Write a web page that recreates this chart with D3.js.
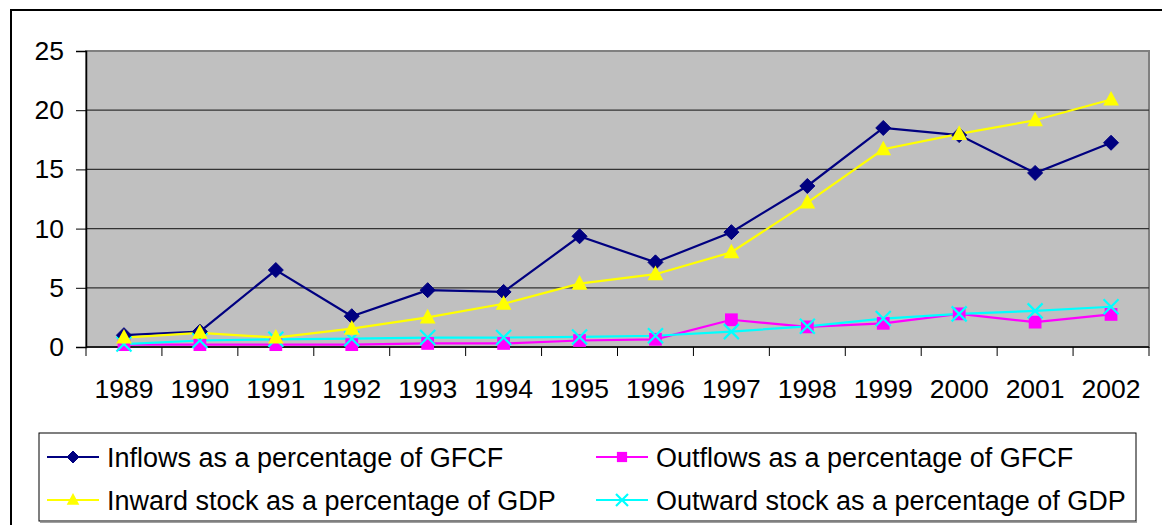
<!DOCTYPE html>
<html>
<head>
<meta charset="utf-8">
<script src="https://cdn.jsdelivr.net/npm/d3@7"></script>
<style>
  html, body { margin: 0; padding: 0; background: #fff; }
  svg { display: block; font-family: "Liberation Sans", Arial, sans-serif; }
</style>
</head>
<body>
<div id="chart"></div>
<script>
// --- data ---
const years = ["1989", "1990", "1991", "1992", "1993", "1994", "1995",
               "1996", "1997", "1998", "1999", "2000", "2001", "2002"];
const inflows = [1.0, 1.3, 6.5, 2.6, 4.8, 4.65, 9.35, 7.15, 9.7, 13.6, 18.5, 17.9, 14.7, 17.25];
const outflows = [0.2, 0.2, 0.2, 0.2, 0.3, 0.3, 0.55, 0.65, 2.3, 1.7, 2.0, 2.8, 2.1, 2.75];
const inwardStock = [0.8, 1.2, 0.8, 1.55, 2.5, 3.65, 5.35, 6.15, 8.0, 12.2, 16.7, 18.0, 19.15, 20.9];
const outwardStock = [0.25, 0.55, 0.65, 0.7, 0.8, 0.8, 0.85, 0.95, 1.3, 1.75, 2.4, 2.8, 3.05, 3.4];
const yTicks = [0, 5, 10, 15, 20, 25];

const series = [
  { name: "Inflows as a percentage of GFCF", values: inflows, color: "#000080", marker: "diamond" },
  { name: "Outflows as a percentage of GFCF", values: outflows, color: "#ff00ff", marker: "square" },
  { name: "Inward stock as a percentage of GDP", values: inwardStock, color: "#ffff00", marker: "triangle" },
  { name: "Outward stock as a percentage of GDP", values: outwardStock, color: "#00ffff", marker: "cross" }
];

const W = 1162, H = 525;
const plot = { left: 86, top: 51, right: 1149, bottom: 347 };
const fontFamily = "'Liberation Sans', Arial, sans-serif";

const svg = d3.select("#chart").append("svg")
  .attr("width", W)
  .attr("height", H);

// outer chart frame (runs off the right/bottom of the picture)
svg.append("rect")
  .attr("x", 11).attr("y", 10)
  .attr("width", W + 20).attr("height", H + 20)
  .attr("fill", "#fff")
  .attr("stroke", "#000")
  .attr("stroke-width", 2);

const x = d3.scaleBand()
  .domain(years)
  .range([plot.left, plot.right]);

const y = d3.scaleLinear()
  .domain([0, 25])
  .range([plot.bottom, plot.top]);

// plot area
svg.append("rect")
  .attr("x", plot.left).attr("y", plot.top)
  .attr("width", plot.right - plot.left)
  .attr("height", plot.bottom - plot.top)
  .attr("fill", "#c0c0c0")
  .attr("stroke", "#808080")
  .attr("stroke-width", 2);

// gridlines
svg.append("g")
  .selectAll("line")
  .data(yTicks.filter(t => t > 0 && t < 25))
  .join("line")
    .attr("x1", plot.left).attr("x2", plot.right)
    .attr("y1", d => y(d)).attr("y2", d => y(d))
    .attr("stroke", "#333")
    .attr("stroke-width", 1.2);

// y axis
const yAxis = svg.append("g")
  .attr("transform", `translate(${plot.left},0)`)
  .call(d3.axisLeft(y).tickValues(yTicks).tickSize(10).tickPadding(12));
yAxis.select(".domain").attr("stroke", "#000").attr("stroke-width", 1.5);
yAxis.selectAll(".tick line").attr("stroke", "#000");
yAxis.selectAll(".tick text")
  .attr("font-size", 26.5)
  .attr("fill", "#000")
  .attr("font-family", fontFamily);

// x axis: ticks sit on the category boundaries
const boundaries = d3.range(years.length + 1).map(i => plot.left + i * x.step());
const xAxisG = svg.append("g");
xAxisG.append("line")
  .attr("x1", plot.left).attr("x2", plot.right)
  .attr("y1", plot.bottom).attr("y2", plot.bottom)
  .attr("stroke", "#000").attr("stroke-width", 1.5);
xAxisG.selectAll(".xtick")
  .data(boundaries)
  .join("line")
    .attr("class", "xtick")
    .attr("x1", d => d).attr("x2", d => d)
    .attr("y1", plot.bottom).attr("y2", plot.bottom + 9)
    .attr("stroke", "#000");
xAxisG.selectAll(".xlabel")
  .data(years)
  .join("text")
    .attr("class", "xlabel")
    .attr("x", d => x(d) + x.bandwidth() / 2)
    .attr("y", 398)
    .attr("text-anchor", "middle")
    .attr("font-size", 26.5)
    .text(d => d);

// marker shapes
function drawMarker(g, type, color, size) {
  const s = size;
  if (type === "diamond") {
    g.append("path")
      .attr("d", `M0,${-s}L${s},0L0,${s}L${-s},0Z`)
      .attr("fill", color).attr("stroke", color);
  } else if (type === "square") {
    g.append("rect")
      .attr("x", -s * 0.85).attr("y", -s * 0.85)
      .attr("width", s * 1.7).attr("height", s * 1.7)
      .attr("fill", color);
  } else if (type === "triangle") {
    g.append("path")
      .attr("d", `M0,${-s * 1.15}L${s * 1.05},${s * 0.8}L${-s * 1.05},${s * 0.8}Z`)
      .attr("fill", color);
  } else if (type === "cross") {
    g.append("path")
      .attr("d", `M${-s},${-s}L${s},${s}M${s},${-s}L${-s},${s}`)
      .attr("stroke", color).attr("stroke-width", 2.2).attr("fill", "none");
  }
}

const line = d3.line()
  .x((d, i) => x(years[i]) + x.bandwidth() / 2)
  .y(d => y(d));

// draw order so the front-most matches the picture
const drawOrder = [1, 3, 0, 2];
drawOrder.forEach(k => {
  const s = series[k];
  svg.append("path")
    .datum(s.values)
    .attr("fill", "none")
    .attr("stroke", s.color)
    .attr("stroke-width", 2.2)
    .attr("d", line);
});
drawOrder.forEach(k => {
  const s = series[k];
  s.values.forEach((v, i) => {
    const g = svg.append("g")
      .attr("transform", `translate(${x(years[i]) + x.bandwidth() / 2},${y(v)})`);
    drawMarker(g, s.marker, s.color, 7.5);
  });
});

// legend
const legend = svg.append("g");
legend.append("rect")
  .attr("x", 39).attr("y", 433)
  .attr("width", 1097).attr("height", 88)
  .attr("fill", "#fff")
  .attr("stroke", "#000")
  .attr("stroke-width", 1);
legend.append("line")
  .attr("x1", 40).attr("x2", 1137)
  .attr("y1", 522).attr("y2", 522)
  .attr("stroke", "#808080").attr("stroke-width", 1.5);

const legendPos = [
  { x: 47, y: 457 },
  { x: 596, y: 457 },
  { x: 47, y: 500 },
  { x: 596, y: 500 }
];
series.forEach((s, i) => {
  const p = legendPos[i];
  const g = legend.append("g").attr("transform", `translate(${p.x},${p.y})`);
  g.append("line")
    .attr("x1", 0).attr("x2", 52)
    .attr("y1", 0).attr("y2", 0)
    .attr("stroke", s.color).attr("stroke-width", 2);
  const m = g.append("g").attr("transform", "translate(26,0)");
  drawMarker(m, s.marker, s.color, 6);
  g.append("text")
    .attr("x", 60)
    .attr("y", 10)
    .attr("font-size", 27)
    .text(s.name);
});
</script>
</body>
</html>
